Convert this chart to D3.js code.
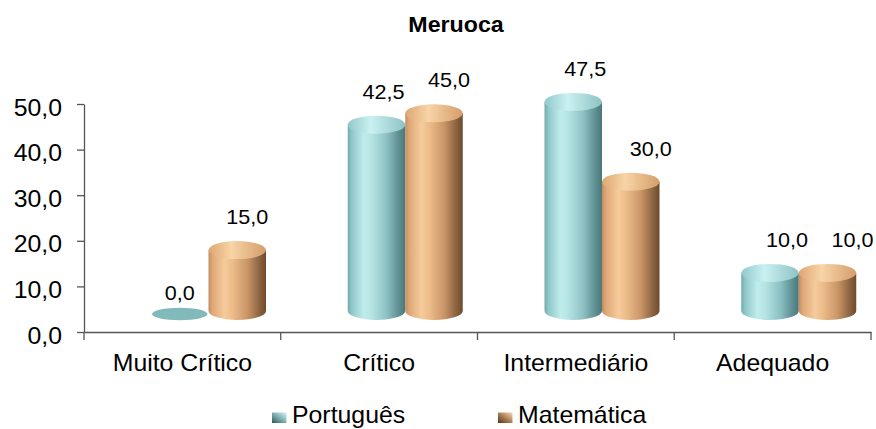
<!DOCTYPE html>
<html>
<head>
<meta charset="utf-8">
<script src="https://cdn.jsdelivr.net/npm/d3@7"></script>
<style>
  html, body { margin: 0; padding: 0; background: #fff; }
  svg { display: block; font-family: "Liberation Sans", Arial, sans-serif; }
</style>
</head>
<body>
<svg id="chart" width="876" height="429"></svg>
<script>
// ---- data ----
const title = "Meruoca";
const categories = ["Muito Crítico", "Crítico", "Intermediário", "Adequado"];
const seriesNames = ["Português", "Matemática"];
const portugues = [0.0, 42.5, 47.5, 10.0];
const matematica = [15.0, 45.0, 30.0, 10.0];
const yTicks = [0, 10, 20, 30, 40, 50];

const seriesValues = [portugues, matematica];
const fmt = v => d3.format(".1f")(v).replace(".", ",");
const SX = 1.08; // slight horizontal stretch of the original picture's text

const svg = d3.select("#chart");

const y = d3.scaleLinear().domain([0, 50]).range([332, 104]);
const x0 = d3.scaleBand().domain(categories).range([84, 871]);
const x1 = d3.scaleBand().domain(seriesNames).range([67, 182]);

// ---- gradients ----
const defs = svg.append("defs");
function lin(id, stops, x1v = 0, y1v = 0, x2v = 1, y2v = 0) {
  const g = defs.append("linearGradient").attr("id", id)
    .attr("x1", x1v).attr("y1", y1v).attr("x2", x2v).attr("y2", y2v);
  stops.forEach(([o, c]) => g.append("stop").attr("offset", o).attr("stop-color", c));
}
lin("body0", [[0, "#72a9ac"], [0.07, "#91c8ca"], [0.28, "#c0eced"], [0.42, "#b5e3e4"], [0.68, "#8cc0c2"], [0.88, "#5f9194"], [1, "#4b777a"]]);
lin("top0", [[0, "#93c8ca"], [0.4, "#c9f1f2"], [1, "#8fc2c4"]]);
lin("body1", [[0, "#c48d5d"], [0.07, "#dfa878"], [0.28, "#f6cb9b"], [0.42, "#ecbc8a"], [0.68, "#c99567"], [0.88, "#8d6541"], [1, "#6c4b2c"]]);
lin("top1", [[0, "#dea774"], [0.4, "#f8d4a6"], [1, "#d59d6b"]]);
lin("leg0", [[0, "#d4f4f4"], [0.5, "#7fb0b2"], [1, "#2f5456"]], 1, 0, 0, 1);
lin("leg1", [[0, "#f6d9b6"], [0.5, "#b07f55"], [1, "#4f3420"]], 1, 0, 0, 1);

function stretchedText(parent, x, yy, txt, size, anchor, weight) {
  return parent.append("text")
    .attr("transform", `translate(${x},${yy}) scale(${SX},1)`)
    .attr("text-anchor", anchor)
    .attr("font-size", size)
    .attr("font-weight", weight || "normal")
    .attr("fill", "#000")
    .text(txt);
}

// ---- title ----
stretchedText(svg, 456, 32, title, 21.5, "middle", "bold");

// ---- y axis ----
const yAxisG = svg.append("g").attr("transform", `translate(${x0.range()[0]},0)`)
  .call(d3.axisLeft(y).tickValues(yTicks).tickFormat(fmt).tickSize(7).tickSizeOuter(0).tickPadding(13.4));
yAxisG.attr("font-family", null).attr("font-size", null);
yAxisG.select(".domain").attr("stroke", "#555").attr("stroke-width", 1.3);
yAxisG.selectAll(".tick line").attr("stroke", "#555").attr("stroke-width", 1.3);
yAxisG.selectAll(".tick text")
  .attr("font-size", 23).attr("fill", "#000")
  .attr("dy", "0.48em")
  .attr("transform", `scale(${SX},1)`);

// ---- x axis ----
const xAxisG = svg.append("g").attr("transform", `translate(0,${y(0)})`)
  .call(d3.axisBottom(x0).tickSize(0).tickSizeOuter(0).tickPadding(22.7));
xAxisG.attr("font-family", null).attr("font-size", null);
xAxisG.select(".domain").attr("stroke", "#555").attr("stroke-width", 1.3);
xAxisG.selectAll(".tick text")
  .attr("font-size", 23).attr("fill", "#000")
  .attr("transform", `scale(${SX},1)`);
const bounds = categories.map(c => x0(c)).concat([x0.range()[1]]);
xAxisG.selectAll(".bound").data(bounds).enter().append("line")
  .attr("class", "bound")
  .attr("x1", d => d).attr("x2", d => d)
  .attr("y1", 0).attr("y2", 8)
  .attr("stroke", "#555").attr("stroke-width", 1.3);

// ---- cylinders ----
const rx = x1.bandwidth() / 2;
const ry = 9;
const baseY = y(0) - 21;
const marks = svg.append("g");
const labels = svg.append("g");
seriesNames.forEach((s, si) => {
  categories.forEach((c, ci) => {
    const v = seriesValues[si][ci];
    const cx = x0(c) + x1(s) + rx;
    const topY = y(v) - 13.5;
    // 3D perspective: labels drift rightwards across the chart
    const lxOff = 2 + 5 * ci + 8 * si;
    if (v === 0) {
      const zy = y(0) - 18;
      marks.append("ellipse")
        .attr("cx", cx).attr("cy", zy).attr("rx", rx - 1).attr("ry", 6.2)
        .attr("fill", si === 0 ? "#82b9bb" : "#d9a170");
      stretchedText(labels, cx, zy - 6.2 - 8, fmt(v), 20, "middle");
      return;
    }
    marks.append("path")
      .attr("d", `M${cx - rx},${topY} L${cx - rx},${baseY} A${rx},${ry} 0 0 0 ${cx + rx},${baseY} L${cx + rx},${topY} Z`)
      .attr("fill", `url(#body${si})`);
    marks.append("ellipse")
      .attr("cx", cx).attr("cy", topY).attr("rx", rx).attr("ry", ry)
      .attr("fill", `url(#top${si})`);
    stretchedText(labels, cx + lxOff, topY - ry - 17, fmt(v), 20, "middle");
  });
});

// ---- legend ----
const legend = svg.append("g");
const legX = d3.scalePoint().domain(seriesNames).range([272, 498]);
seriesNames.forEach((s, si) => {
  const lx = legX(s);
  legend.append("rect")
    .attr("x", lx).attr("y", 412.5).attr("width", 14.5).attr("height", 10.5)
    .attr("fill", `url(#leg${si})`);
  stretchedText(legend, lx + 20, 423, s, 23, "start");
});
</script>
</body>
</html>
